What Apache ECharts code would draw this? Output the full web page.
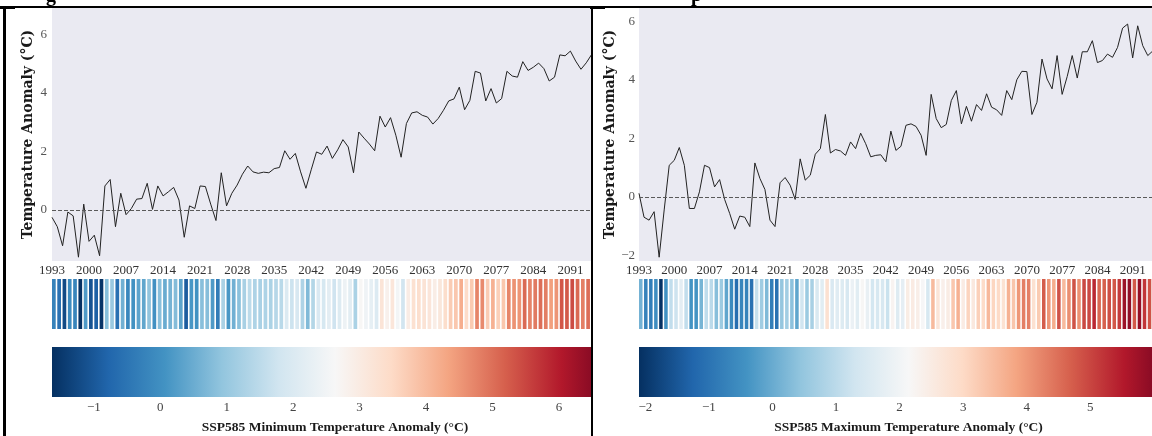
<!DOCTYPE html>
<html>
<head>
<meta charset="utf-8">
<script src="https://cdn.jsdelivr.net/npm/echarts@6/dist/echarts.min.js"></script>
<style>
  html, body { margin: 0; padding: 0; background: #fff; }
  body { width: 1152px; height: 436px; position: relative; overflow: hidden; }
  .clip { position: absolute; top: 0; height: 436px; overflow: hidden; }
  .chart { position: absolute; top: 0; left: 0; width: 640px; height: 436px; }
  .rule { position: absolute; background: #000; }
  .caption { position: absolute; z-index: 5; top: -16px; font: bold 20px/20px 'Liberation Serif', serif;
             color: #000; white-space: nowrap; -webkit-font-smoothing: antialiased; }
</style>
</head>
<body>
<div class="clip" style="left:0;width:591px"><div class="chart" id="chartMin"></div></div>
<div class="clip" style="left:593px;width:559px"><div class="chart" id="chartMax"></div></div>

<!-- bottom of the caption line above the table -->
<div class="caption" style="left:46px">g</div>
<div class="caption" style="left:691px">p</div>

<!-- table cell rules around the two panels -->
<div class="rule" style="left:3px;top:6px;width:1149px;height:2px"></div>
<div class="rule" style="left:0;top:6px;width:15px;height:3px"></div>
<div class="rule" style="left:590px;top:6px;width:15px;height:3px"></div>
<div class="rule" style="left:3px;top:6px;width:3px;height:430px"></div>
<div class="rule" style="left:591px;top:6px;width:2px;height:430px"></div>

<script>
// SSP585 annual temperature anomalies (°C), one value per year starting 1993
const firstYear = 1993;

const minTempAnomaly = [
  -0.25, -0.57, -1.22, -0.07, -0.20, -1.61, 0.20, -1.07, -0.86, -1.56,
  0.82, 1.04, -0.57, 0.57, -0.16, 0.05, 0.37, 0.39, 0.91, 0.02,
  0.82, 0.48, 0.62, 0.77, 0.34, -0.93, 0.14, 0.05, 0.82, 0.80,
  0.20, -0.36, 1.27, 0.14, 0.57, 0.85, 1.22, 1.50, 1.30, 1.25,
  1.29, 1.27, 1.41, 1.45, 2.02, 1.73, 1.93, 1.30, 0.74, 1.37,
  1.98, 1.90, 2.18, 1.76, 2.05, 2.40, 2.15, 1.27, 2.66, 2.45,
  2.25, 2.02, 3.20, 2.83, 3.15, 2.55, 1.80, 2.95, 3.31, 3.35,
  3.23, 3.17, 2.93, 3.12, 3.40, 3.72, 3.79, 4.19, 3.42, 3.74,
  4.73, 4.67, 3.72, 4.14, 3.65, 3.80, 4.73, 4.57, 4.53, 5.06,
  4.76, 4.87, 5.01, 4.82, 4.40, 4.53, 5.29, 5.26, 5.42, 5.08,
  4.80, 5.02, 5.30
];

const maxTempAnomaly = [
  0.12, -0.70, -0.80, -0.51, -2.07, -0.45, 1.08, 1.25, 1.69, 1.08,
  -0.40, -0.40, 0.17, 1.08, 1.00, 0.34, 0.59, -0.09, -0.57, -1.11,
  -0.66, -0.70, -1.02, 1.16, 0.63, 0.25, -0.80, -1.02, 0.48, 0.66,
  0.40, -0.09, 1.30, 0.57, 0.74, 1.46, 1.65, 2.82, 1.50, 1.62,
  1.57, 1.42, 1.88, 1.65, 2.18, 1.82, 1.37, 1.42, 1.44, 1.20,
  2.25, 1.59, 1.73, 2.45, 2.50, 2.41, 2.11, 1.42, 3.51, 2.68,
  2.37, 2.48, 3.30, 3.64, 2.50, 3.10, 2.59, 3.16, 2.96, 3.53,
  3.07, 2.98, 2.79, 3.64, 3.33, 4.01, 4.30, 4.29, 2.82, 3.24,
  4.72, 4.04, 3.70, 4.84, 3.51, 4.12, 4.84, 4.07, 4.97, 4.97,
  5.35, 4.60, 4.67, 4.89, 4.78, 5.12, 5.78, 5.92, 4.76, 5.86,
  5.18, 4.84, 5.00
];

// tick labels
const yearTicks = [1993, 2000, 2007, 2014, 2021, 2028, 2035, 2042, 2049, 2056, 2063, 2070, 2077, 2084, 2091, 2098];
const minYTicks = [0, 2, 4, 6];
const maxYTicks = [-2, 0, 2, 4, 6];
const minBarTicks = [-1, 0, 1, 2, 3, 4, 5, 6];
const maxBarTicks = [-2, -1, 0, 1, 2, 3, 4, 5];

// RdBu_r colour ramp
const rdbuR = ['#053061', '#2166ac', '#4393c3', '#92c5de', '#d1e5f0', '#f7f7f7',
               '#fddbc7', '#f4a582', '#d6604d', '#b2182b', '#67001f'];

const minus = v => (v < 0 ? '\u2212' + Math.abs(v) : String(v));
const tickFont = { fontFamily: 'Liberation Serif', fontSize: 13 };

function buildOption(cfg) {
  const years = cfg.values.map((_, i) => firstYear + i);
  const pairs = years.map((yr, i) => [yr, cfg.values[i]]);
  const plotLeft = cfg.left, plotWidth = cfg.width;
  const noAxis = { axisLine: { show: false }, axisTick: { show: false }, splitLine: { show: false } };

  return {
    animation: false,
    grid: [
      { left: plotLeft, top: 8, width: plotWidth, height: 253, show: true, backgroundColor: '#EAEAF2', borderWidth: 0 },
      { left: plotLeft, top: 279, width: plotWidth, height: 50 },
      { left: plotLeft, top: 347, width: plotWidth, height: 50 }
    ],
    xAxis: [
      Object.assign({
        gridIndex: 0, type: 'value', min: firstYear, max: 2100,
        axisLabel: Object.assign({ customValues: yearTicks, formatter: v => String(v), margin: 3, color: '#333' }, tickFont)
      }, noAxis),
      { gridIndex: 1, type: 'value', min: firstYear, max: 2100, show: false },
      Object.assign({
        gridIndex: 2, type: 'value', min: cfg.barMin, max: cfg.barMax,
        axisLabel: Object.assign({ customValues: cfg.barTicks, formatter: minus, margin: 4, color: '#444' }, tickFont),
        name: cfg.barTitle, nameLocation: 'middle', nameGap: 24, nameMoveOverlap: false,
        nameTextStyle: { fontFamily: 'Liberation Serif', fontWeight: 'bold', fontSize: 13.5, color: '#1a1a1a' }
      }, noAxis)
    ],
    yAxis: [
      Object.assign({
        gridIndex: 0, type: 'value', min: cfg.yMin, max: cfg.yMax,
        axisLabel: Object.assign({ customValues: cfg.yTicks, formatter: minus, margin: cfg.yLabelMargin, color: '#555' }, tickFont),
        name: 'Temperature Anomaly (\u00B0C)', nameLocation: 'middle', nameGap: cfg.yNameGap, nameMoveOverlap: false,
        nameTextStyle: { fontFamily: 'DejaVu Serif', fontWeight: 'bold', fontSize: 14, color: '#1a1a1a' }
      }, noAxis),
      { gridIndex: 1, type: 'value', min: 0, max: 1, show: false },
      { gridIndex: 2, type: 'value', min: 0, max: 1, show: false }
    ],
    visualMap: [{
      type: 'continuous', show: false, seriesIndex: 1, dimension: 1,
      min: cfg.barMin, max: cfg.barMax, inRange: { color: rdbuR }
    }],
    series: [
      {
        type: 'line', xAxisIndex: 0, yAxisIndex: 0, data: pairs,
        symbol: 'none', lineStyle: { color: '#222', width: 1 },
        markLine: {
          silent: true, symbol: 'none', label: { show: false },
          lineStyle: { color: '#5a5a5a', type: [4, 2], width: 1.2 },
          data: [{ yAxis: 0 }]
        }
      },
      {
        // warming stripes, one bar per year
        type: 'custom', xAxisIndex: 1, yAxisIndex: 1, data: pairs,
        encode: { x: 0 },
        renderItem: (params, api) => {
          const x0 = api.coord([api.value(0), 0])[0];
          const w = api.size([0.7, 0])[0];
          const cs = params.coordSys;
          return {
            type: 'rect',
            shape: { x: x0, y: cs.y, width: w, height: cs.height },
            style: { fill: api.visual('color') }
          };
        }
      },
      {
        // colour bar
        type: 'custom', xAxisIndex: 2, yAxisIndex: 2, data: [[cfg.barMin, cfg.barMax]],
        encode: { x: [0, 1] },
        renderItem: (params, api) => {
          const a = api.coord([api.value(0), 0])[0];
          const b = api.coord([api.value(1), 0])[0];
          const cs = params.coordSys;
          return {
            type: 'rect',
            shape: { x: a, y: cs.y, width: b - a, height: cs.height },
            style: {
              fill: new echarts.graphic.LinearGradient(0, 0, 1, 0,
                rdbuR.map((c, i) => ({ offset: i / (rdbuR.length - 1), color: c })))
            }
          };
        }
      }
    ]
  };
}

const chartMin = echarts.init(document.getElementById('chartMin'), null, { renderer: 'canvas' });
chartMin.setOption(buildOption({
  values: minTempAnomaly, left: 52, width: 566,
  yMin: -1.74, yMax: 6.89, yTicks: minYTicks, yLabelMargin: 5, yNameGap: 17,
  barMin: -1.63, barMax: 6.89, barTicks: minBarTicks,
  barTitle: 'SSP585 Minimum Temperature Anomaly (\u00B0C)'
}));

const chartMax = echarts.init(document.getElementById('chartMax'), null, { renderer: 'canvas' });
chartMax.setOption(buildOption({
  values: maxTempAnomaly, left: 46, width: 539,
  yMin: -2.20, yMax: 6.47, yTicks: maxYTicks, yLabelMargin: 4, yNameGap: 22,
  barMin: -2.10, barMax: 6.38, barTicks: maxBarTicks,
  barTitle: 'SSP585 Maximum Temperature Anomaly (\u00B0C)'
}));
</script>
</body>
</html>
